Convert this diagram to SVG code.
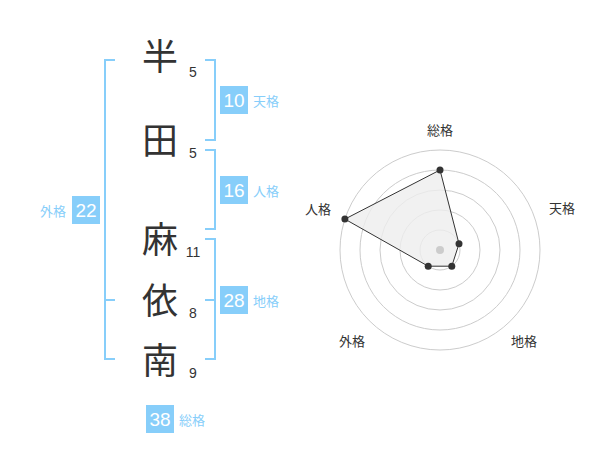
<svg xmlns="http://www.w3.org/2000/svg" width="600" height="470" viewBox="0 0 600 470">
<style>
.ch{font-family:"Noto Sans CJK JP","Noto Sans",sans-serif;font-size:36px;fill:#333;text-anchor:middle}
.num{font-family:"Liberation Sans",Arial,sans-serif;font-size:14px;fill:#333;text-anchor:middle}
.box{fill:#87cefa}
.bt{font-family:"Liberation Sans",Arial,sans-serif;font-size:19px;fill:#fff;text-anchor:middle}
.lb{font-family:"Noto Sans CJK JP",sans-serif;font-size:13px;fill:#87cefa}
.br{fill:none;stroke:#87cefa;stroke-width:2}
.ring{fill:none;stroke:#ccc;stroke-width:1}
.rl{font-family:"Noto Sans CJK JP",sans-serif;font-size:13px;fill:#333;text-anchor:middle}
.dot{fill:#333}
</style>
<rect width="600" height="470" fill="#fff"/>
<g id="connectors">
<path class="br" d="M115,60 H105 V359 H115 M105,300 H115"/>
<path class="br" d="M205,60 H215 V140 H205"/>
<path class="br" d="M205,150 H215 V229 H205"/>
<path class="br" d="M205,239 H215 V359 H205 M215,300 H205"/>
</g>
<g id="char-han"><text class="ch" x="160" y="70">半</text><text class="num" x="193" y="77">5</text></g>
<g id="char-ta"><text class="ch" x="160" y="154">田</text><text class="num" x="193" y="158">5</text></g>
<g id="char-ma"><text class="ch" x="160" y="253">麻</text><text class="num" x="193" y="257">11</text></g>
<g id="char-i"><text class="ch" x="160" y="314">依</text><text class="num" x="193" y="318">8</text></g>
<g id="char-nan"><text class="ch" x="160" y="374">南</text><text class="num" x="193" y="378">9</text></g>
<g id="tenkaku"><rect class="box" x="220" y="86" width="28" height="28"/><text class="bt" x="234" y="107">10</text><text class="lb" x="253" y="106">天格</text></g>
<g id="jinkaku"><rect class="box" x="220" y="176" width="28" height="28"/><text class="bt" x="234" y="197">16</text><text class="lb" x="253" y="196">人格</text></g>
<g id="chikaku"><rect class="box" x="220" y="286" width="28" height="28"/><text class="bt" x="234" y="307">28</text><text class="lb" x="253" y="306">地格</text></g>
<g id="gaikaku"><rect class="box" x="72" y="196" width="28" height="28"/><text class="bt" x="86" y="217">22</text><text class="lb" x="66" y="216" text-anchor="end">外格</text></g>
<g id="soukaku"><rect class="box" x="146" y="405" width="28" height="28"/><text class="bt" x="160" y="426">38</text><text class="lb" x="179" y="425">総格</text></g>
<g id="radar">
<circle class="ring" cx="440" cy="250" r="20"/>
<circle class="ring" cx="440" cy="250" r="40"/>
<circle class="ring" cx="440" cy="250" r="60"/>
<circle class="ring" cx="440" cy="250" r="80"/>
<circle class="ring" cx="440" cy="250" r="100"/>
<polygon points="440,170 459,243.8 451.8,266.2 428.2,266.2 344.9,219.1" fill="#eee" fill-opacity="0.8" stroke="#333" stroke-width="1"/>
<circle cx="440" cy="250" r="4" fill="#ccc"/>
<circle class="dot" cx="440" cy="170" r="3.5"/>
<circle class="dot" cx="459" cy="243.8" r="3.5"/>
<circle class="dot" cx="451.8" cy="266.2" r="3.5"/>
<circle class="dot" cx="428.2" cy="266.2" r="3.5"/>
<circle class="dot" cx="344.9" cy="219.1" r="3.5"/>
<text class="rl" x="440" y="135">総格</text>
<text class="rl" x="562" y="213">天格</text>
<text class="rl" x="318" y="214">人格</text>
<text class="rl" x="352" y="346">外格</text>
<text class="rl" x="524" y="346">地格</text>
</g>
</svg>
